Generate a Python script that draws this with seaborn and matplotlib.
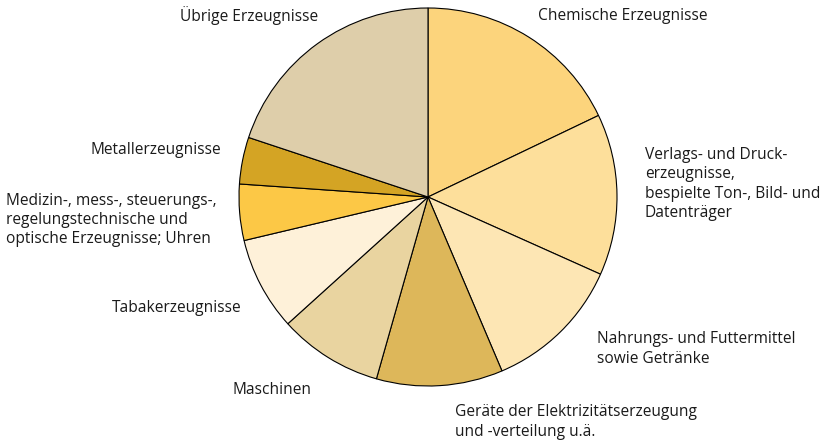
import matplotlib
matplotlib.use("Agg")
import matplotlib.pyplot as plt
import seaborn as sns

# Anteile (in %) im Uhrzeigersinn ab 12 Uhr
categories = [
    "Chemische Erzeugnisse",
    "Verlags- und Druck-\nerzeugnisse,\nbespielte Ton-, Bild- und\nDatenträger",
    "Nahrungs- und Futtermittel\nsowie Getränke",
    "Geräte der Elektrizitätserzeugung\nund -verteilung u.ä.",
    "Maschinen",
    "Tabakerzeugnisse",
    "Medizin-, mess-, steuerungs-,\nregelungstechnische und\noptische Erzeugnisse; Uhren",
    "Metallerzeugnisse",
    "Übrige Erzeugnisse",
]
shares = [17.9, 13.8, 11.9, 10.8, 8.9, 8.0, 4.8, 4.0, 19.9]
colors = ["#FCD47C", "#FDDF9B", "#FDE6B4", "#DDB75A", "#E9D4A0",
          "#FEF1D9", "#FCC846", "#D4A424", "#DECEAA"]

# label anchor (pixel, from top-left) and alignment
label_pos = [(538, 16, "left"), (645, 184, "left"), (597, 349, "left"),
             (455, 422, "left"), (312, 390, "right"), (242, 308, "right"),
             (6, 220, "left"), (221, 150, "right"), (318, 16, "right")]

W, H = 831, 446
sns.set_theme(style="white")
plt.rcParams["font.family"] = ["Open Sans", "DejaVu Sans"]

fig = plt.figure(figsize=(W / 100, H / 100), dpi=100)
ax = fig.add_axes([0, 0, 1, 1])
ax.pie(shares, colors=colors, startangle=90, counterclock=False,
       center=(428, H - 197), radius=189,
       wedgeprops=dict(edgecolor="black", linewidth=0.8))
ax.set_xlim(0, W)
ax.set_ylim(0, H)
ax.set_aspect("equal")
ax.axis("off")

for text, (px, py, ha) in zip(categories, label_pos):
    ax.text(px, H - py, text, ha=ha, va="center", fontsize=11.2,
            color="#1a1a1a", linespacing=1.28, multialignment="left")

fig.savefig("out.png", dpi=100)
